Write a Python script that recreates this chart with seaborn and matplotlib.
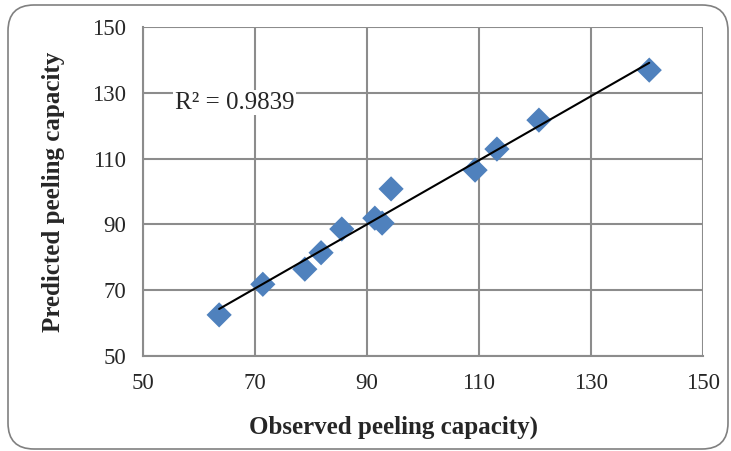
import numpy as np
import pandas as pd
import matplotlib
matplotlib.use("Agg")
import matplotlib.pyplot as plt
import seaborn as sns
from matplotlib.patches import FancyBboxPatch
from matplotlib.transforms import IdentityTransform

# observed vs predicted peeling capacity
observed = [63.6, 71.4, 78.9, 81.8, 85.5, 91.4, 92.7, 94.3, 109.3, 113.2, 120.7, 140.4]
predicted = [62.5, 71.8, 76.4, 81.4, 88.6, 91.9, 90.4, 100.8, 106.5, 112.9, 121.7, 136.9]
y_ticks = [50, 70, 90, 110, 130, 150]
x_ticks = [50, 70, 90, 110, 130, 150]
r2_label = "R² = 0.9839"

df = pd.DataFrame({"observed": observed, "predicted": predicted})

sns.set_style("white")
plt.rcParams['font.family'] = ['Liberation Serif', 'DejaVu Serif']

fig = plt.figure(figsize=(7.31, 4.51), dpi=100)
ax = fig.add_axes([0.1956, 0.2106, 0.7661, 0.7295])

# rounded chart border (pixel coords)
border = FancyBboxPatch((8, 2), 720, 444,
                        boxstyle="round,pad=0,rounding_size=26",
                        transform=IdentityTransform(), fill=False,
                        edgecolor='#808080', linewidth=1.2, zorder=0)
fig.patches.append(border)

sns.scatterplot(data=df, x="observed", y="predicted", marker="D", s=165,
                color="#4F81BD", edgecolor="none", ax=ax, zorder=3)

# linear trendline over the data range
slope, intercept = np.polyfit(df["observed"], df["predicted"], 1)
xs = np.array([df["observed"].min(), df["observed"].max()])
ax.plot(xs, slope * xs + intercept, color="black", linewidth=1.5, zorder=4)

ax.set_xlim(50, 150)
ax.set_ylim(50, 150)
ax.set_xticks(x_ticks)
ax.set_yticks(y_ticks)
ax.grid(True, color="#8c8c8c", linewidth=1.5)
ax.set_axisbelow(True)
for side in ["top", "right"]:
    ax.spines[side].set_visible(False)
for side in ["left", "bottom"]:
    ax.spines[side].set_color("#8c8c8c")
    ax.spines[side].set_linewidth(1.5)
ax.tick_params(axis="both", labelsize=16.5, length=4, width=1.5, color="#8c8c8c",
               direction="out", pad=8)

ax.set_xlabel("Observed peeling capacity)", fontsize=18, fontweight="bold", labelpad=16)
ax.xaxis.label.set_x(0.447)  # label sits left of the plot centre in the original
ax.set_ylabel("Predicted peeling capacity", fontsize=18, fontweight="bold", labelpad=20)

ax.text(55.7, 127, r2_label, fontsize=18, ha="left", va="center",
        bbox=dict(facecolor="white", edgecolor="none", pad=1), zorder=5)

fig.savefig("out.png", dpi=100)
